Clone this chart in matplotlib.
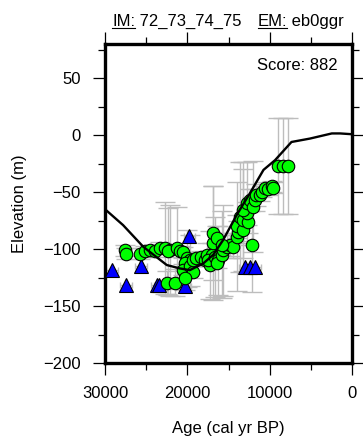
import numpy as np
import matplotlib.pyplot as plt
from matplotlib.lines import Line2D
from matplotlib.ticker import MultipleLocator

plt.rcParams['font.family'] = ['Liberation Sans', 'DejaVu Sans']

# observed index points (age in cal yr BP, elevation in m)
obs_age = [27600, 27400, 25750, 25100, 24500, 23900, 23300, 22700, 22100, 22350,
           21300, 20900, 20500, 20100, 19700, 20300, 20500, 19700, 19300, 19300,
           18900, 18300, 17850, 17650, 17050, 17250, 17500, 16650, 16300, 16450,
           15850, 15650, 15200, 14800, 14400, 16850, 16850, 16450, 15850, 22500,
           21500, 20300, 14000, 13800, 14000, 13600, 13200, 13200, 12600, 12800,
           13200, 12800, 12400, 12000, 11800, 11600, 11150, 10950, 10550, 10150,
           9750, 9550, 12100, 8950, 8350, 7750]
obs_elev = [-101, -104, -104, -102, -101, -102, -99, -99, -101, -102,
            -99, -102, -103, -108, -110, -112, -118, -115, -120, -110,
            -108, -107, -110, -105, -105, -114, -110, -107, -110, -112,
            -105, -101, -98, -96, -98, -95, -86, -90, -96, -129.5,
            -129.5, -125.5, -89, -85, -80, -72, -83, -74.5, -76, -68.5,
            -66, -60, -57, -63, -57, -52.5, -52.5, -49.5, -46.5, -47.5,
            -45, -46, -96, -27, -27, -27]
obs_elev_err = [5, 5, 5, 5, 5, 5, 5, 40, 40, 38,
                36, 5, 5, 25, 22, 5, 5, 5, 5, 5,
                5, 5, 5, 10, 10, 30, 5, 35, 30, 5,
                38, 40, 10, 10, 10, 50, 41, 10, 10, 10,
                12, 10, 48, 10, 10, 48, 10, 45, 10, 10,
                42, 36, 10, 40, 10, 10, 5, 5, 5, 5,
                5, 5, 42, 42, 42, 42]
obs_age_err = 600

# limiting points
lim_age = [29150, 27450, 25650, 23700, 23400, 20300, 19750, 13000, 12400, 11800]
lim_elev = [-118.5, -131.5, -114.5, -131.5, -131.5, -132.5, -88.5, -115.5, -115.5, -115.5]
lim_age_err = 700

# model relative sea-level curve
model_age = [30000, 27800, 25350, 22500, 20900, 19700, 18050, 16850, 15650, 14000,
             12400, 10750, 9350, 7350, 5100, 2450, 1450, 0]
model_elev = [-65, -79, -98, -114, -117, -118.5, -112.5, -105, -92, -70,
              -51, -30.5, -22, -6, -3, 1.5, 1.5, 0.8]

grey = '#bdbdbd'

fig = plt.figure(figsize=(3.63, 4.40), dpi=100)
W, H = 363.0, 440.0
ax = fig.add_axes([105 / W, 1 - 363 / H, 247 / W, 319 / H])

# error bars first, then markers, then the model line on top
ax.errorbar(obs_age, obs_elev, yerr=obs_elev_err, fmt='none', ecolor=grey,
            elinewidth=1, capsize=7, capthick=1, zorder=1)
ax.errorbar(obs_age, obs_elev, xerr=obs_age_err, fmt='none', ecolor=grey,
            elinewidth=1, capsize=2.5, capthick=1, zorder=1)
ax.errorbar(lim_age, lim_elev, xerr=lim_age_err, fmt='none', ecolor=grey,
            elinewidth=1, capsize=2.5, capthick=1, zorder=1)

ax.plot(lim_age, lim_elev, '^', ms=9.5, mfc='#0000ff', mec='black', mew=0.8,
        ls='none', zorder=3)
ax.plot(obs_age, obs_elev, 'o', ms=9, mfc='#00ff00', mec='black', mew=0.8,
        ls='none', zorder=3)
ax.plot(model_age, model_elev, color='black', lw=1.7, zorder=4)

ax.set_xlim(30000, 0)
ax.set_ylim(-200, 80)
ax.set_xticks([30000, 20000, 10000, 0])
ax.set_yticks([-200, -150, -100, -50, 0, 50])
ax.xaxis.set_minor_locator(MultipleLocator(5000))
ax.yaxis.set_minor_locator(MultipleLocator(25))
ax.tick_params(which='both', direction='out', top=True, right=True,
               labeltop=False, labelright=False, width=0.9, labelsize=12)
ax.tick_params(which='major', length=8.6)
ax.tick_params(which='minor', length=5)
ax.tick_params(axis='x', which='major', pad=8)
ax.tick_params(axis='y', which='major', pad=9)
for sp in ax.spines.values():
    sp.set_linewidth(2.4)

ax.text(0.943, 0.934, 'Score: 882', transform=ax.transAxes, ha='right',
        va='center', fontsize=12)

fig.text(228.5 / W, 1 - 428 / H, 'Age (cal yr BP)', ha='center', va='center',
         fontsize=12)
fig.text(20 / W, 1 - 203.5 / H, 'Elevation (m)', ha='center', va='center',
         rotation=90, fontsize=12)

# header with underlined keys, laid out piece by piece in pixels
renderer = fig.canvas.get_renderer()
pieces = [('IM:', True, 0), (' 72_73_74_75', False, 0), ('EM:', True, 16),
          (' eb0ggr', False, 0)]
base_y = 1 - 26 / H
x = 112.0
for s, underline, gap in pieces:
    x += gap
    t = fig.text(x / W, base_y, s, fontsize=12, va='baseline', ha='left')
    w = t.get_window_extent(renderer).width
    if underline:
        fig.add_artist(Line2D([x / W, (x + w) / W], [1 - 28 / H, 1 - 28 / H],
                              color='black', lw=0.8, transform=fig.transFigure))
    x += w

fig.savefig('out.png', dpi=100)
